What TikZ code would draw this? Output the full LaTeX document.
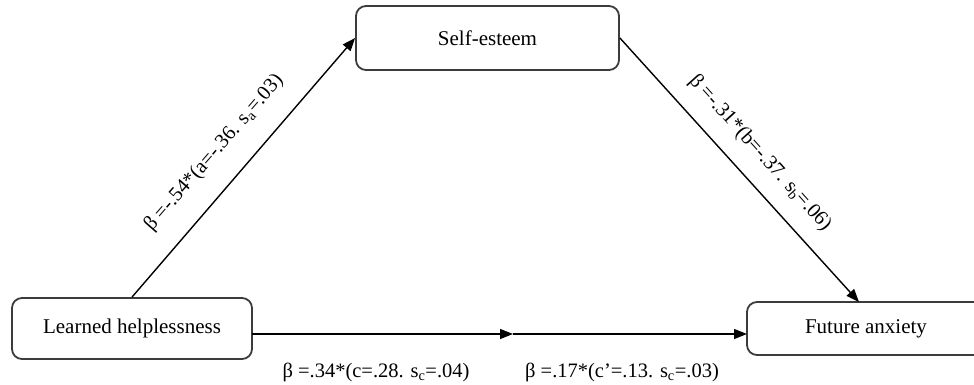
\documentclass[tikz,border=0pt]{standalone}
\usepackage{fontspec}
\setmainfont{Liberation Serif}
\usetikzlibrary{arrows.meta}
\definecolor{boxline}{HTML}{3C3C3C}
\tikzset{
  varbox/.style={draw=boxline, line width=1.8pt, rounded corners=10pt, fill=white, inner sep=0pt, font=\fontsize{21}{24}\selectfont},
  arr/.style={line width=1.4pt, -{Triangle[length=13pt,width=10pt]}},
  coef/.style={font=\fontsize{20.5}{24}\selectfont, inner sep=0pt}
}
\begin{document}
\begin{tikzpicture}[x=1pt,y=-1pt]
\useasboundingbox (0,0) rectangle (974,385);
\node[varbox, minimum width=263pt, minimum height=64pt] (se) at (487.5,38) {Self-esteem};
\node[varbox, minimum width=240pt, minimum height=61pt] (lh) at (132,328.5) {Learned helplessness};
\node[varbox, minimum width=238pt, minimum height=53pt] (fa) at (866,328.5) {Future anxiety};
\coordinate (m) at (513,334);
\coordinate (lhs) at (252,334);
\coordinate (faw) at (747,334);
\coordinate (fat) at (859,302);
\draw[arr] (lh.north) -- (se.west);
\draw[arr] (se.east) -- (fat);
\draw[arr] (lhs) -- (m);
\draw[arr] (m) -- (faw);
\node[coef, rotate=49] (l1) at (214,153) {β =-.54*(a=-.36. s\textsubscript{a}=.03)};
\node[coef, rotate=-48] (l2) at (760,153) {β =-.31*(b=-.37. s\textsubscript{b}=.06)};
\node[coef] (l3) at (376,372) {β =.34*(c=.28. s\textsubscript{c}=.04)};
\node[coef] (l4) at (622,372) {β =.17*(c’=.13. s\textsubscript{c}=.03)};
\end{tikzpicture}
\end{document}
